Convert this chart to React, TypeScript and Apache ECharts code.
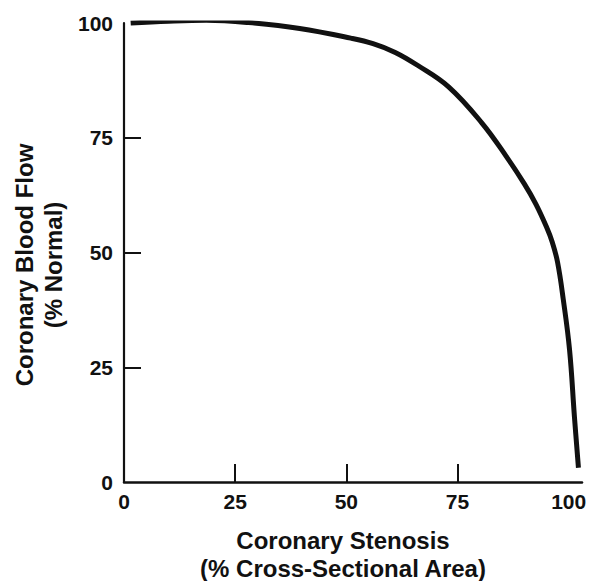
import React, { useEffect, useRef } from "react";
import * as echarts from "echarts";

const stenosis = [1.5, 10, 18.5, 28, 39.5, 51, 56, 61, 66, 73, 80.5, 86, 90, 92.6, 95, 96.3, 97.5, 98.8, 100.2, 101.3, 102.2];
const flow = [100, 100.4, 100.6, 100.1, 98.8, 96.7, 95.5, 93.6, 90.8, 86.1, 78.2, 70.9, 65, 60.6, 55.6, 52.3, 47.9, 39.7, 28.8, 14.2, 3.1];
const xLabelValues = [0, 25, 50, 75, 100];
const xTickValues = [25, 50, 75];
const yTickValues = [25, 50, 75];
const xTitle = ["Coronary Stenosis", "(% Cross-Sectional Area)"];
const yTitle = ["Coronary Blood Flow", "(% Normal)"];

const FONT = "'Liberation Sans', Arial, Helvetica, sans-serif";
const INK = "#111";

export default function App() {
  const ref = useRef<HTMLDivElement>(null);
  useEffect(() => {
    if (!ref.current) return;
    const chart = echarts.init(ref.current, null, { renderer: "svg" });
    const data = stenosis.map((x, i) => [x, flow[i]]);
    chart.setOption({
      animation: false,
      backgroundColor: "#fff",
      grid: { left: 124, right: 8, top: 23, bottom: 99, containLabel: false },
      xAxis: {
        type: "value",
        min: 0,
        max: 103,
        splitLine: { show: false },
        axisLine: { show: true, lineStyle: { color: INK, width: 2.5 } },
        axisTick: { show: true, inside: true, length: 18, customValues: xTickValues, lineStyle: { color: INK, width: 2 } },
        axisLabel: {
          customValues: xLabelValues,
          margin: 9,
          color: INK,
          fontFamily: FONT,
          fontWeight: "bold",
          fontSize: 21,
        },
      },
      yAxis: {
        type: "value",
        min: 0,
        max: 100,
        interval: 25,
        splitLine: { show: false },
        axisLine: { show: true, lineStyle: { color: INK, width: 2.2 } },
        axisTick: { show: true, inside: true, length: 17, customValues: yTickValues, lineStyle: { color: INK, width: 2 } },
        axisLabel: {
          margin: 11,
          color: INK,
          fontFamily: FONT,
          fontWeight: "bold",
          fontSize: 21,
        },
      },
      series: [
        {
          type: "line",
          data,
          smooth: 0.4,
          symbol: "none",
          lineStyle: { color: INK, width: 5 },
        },
      ],
      graphic: [
        {
          type: "text",
          x: 343,
          y: 540,
          style: { text: xTitle[0], fill: INK, font: `bold 24px ${FONT}`, align: "center", verticalAlign: "middle" },
        },
        {
          type: "text",
          x: 343,
          y: 568,
          style: { text: xTitle[1], fill: INK, font: `bold 24px ${FONT}`, align: "center", verticalAlign: "middle" },
        },
        {
          type: "text",
          x: 24,
          y: 265,
          rotation: Math.PI / 2,
          style: { text: yTitle[0], fill: INK, font: `bold 24px ${FONT}`, align: "center", verticalAlign: "middle" },
        },
        {
          type: "text",
          x: 53,
          y: 265,
          rotation: Math.PI / 2,
          style: { text: yTitle[1], fill: INK, font: `bold 24px ${FONT}`, align: "center", verticalAlign: "middle" },
        },
      ],
    });
    return () => chart.dispose();
  }, []);
  return (
    <div
      ref={ref}
      style={{ position: "fixed", left: 0, top: 0, width: 590, height: 581, background: "#fff" }}
    />
  );
}
